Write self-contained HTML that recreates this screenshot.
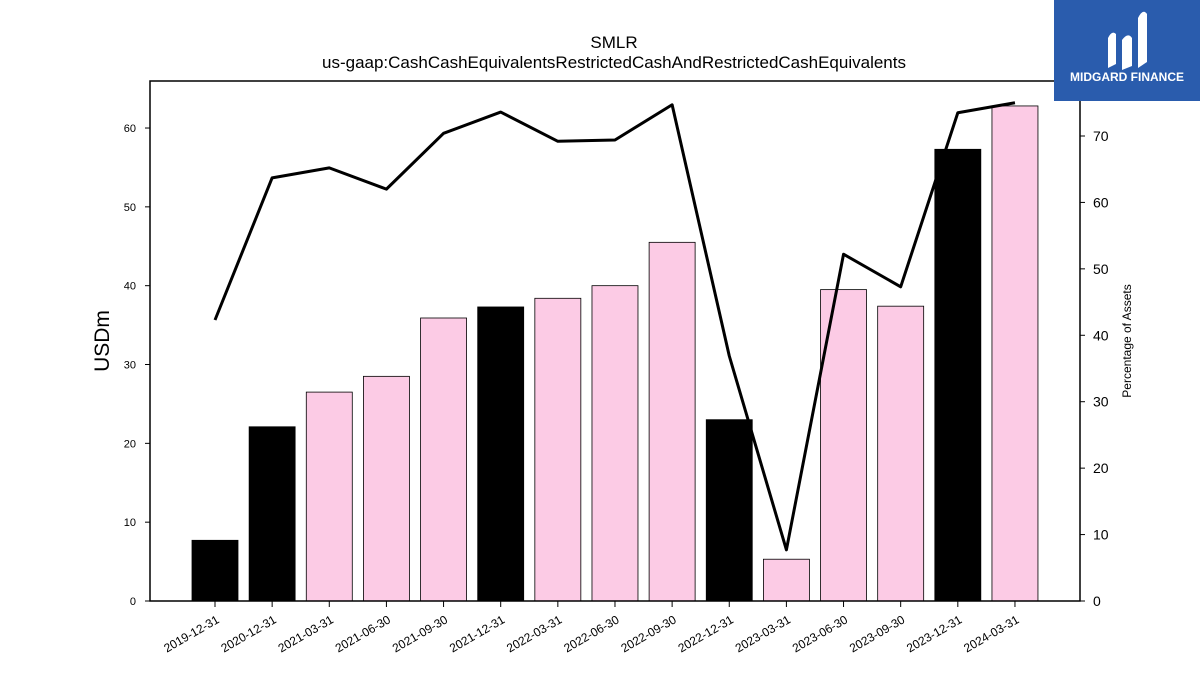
<!DOCTYPE html>
<html><head><meta charset="utf-8">
<style>
body{margin:0;background:#fff;font-family:"Liberation Sans",sans-serif;}
svg text{font-family:"Liberation Sans",sans-serif;}
</style></head>
<body>
<svg id="chart" width="1200" height="675" viewBox="0 0 1200 675" xmlns="http://www.w3.org/2000/svg">
<rect width="1200" height="675" fill="#fff"/>
<text x="614" y="48" font-size="17" text-anchor="middle">SMLR</text>
<text x="614" y="68" font-size="17" text-anchor="middle">us-gaap:CashCashEquivalentsRestrictedCashAndRestrictedCashEquivalents</text>
<g id="bars"></g>
<g id="line"></g>
<g id="axes"></g>
<rect x="150" y="81" width="930" height="520" fill="none" stroke="#000" stroke-width="1.5"/>
<text transform="translate(109,341) rotate(-90)" font-size="21" text-anchor="middle">USDm</text>
<text transform="translate(1131,341) rotate(-90)" font-size="12" text-anchor="middle">Percentage of Assets</text>
<g>
<rect x="1054" y="0" width="146" height="101" fill="#2a5cad"/>
<path d="M1108 68 L1108 38 Q1112 30 1116 34 L1116 64 Z M1122 70 L1122 40 Q1128 32 1132 38 L1132 66 Z M1138 68 L1138 18 Q1143 8 1147 14 L1147 62 Z" fill="#fff"/>
<text x="1127" y="81" font-size="12" font-weight="bold" fill="#fff" text-anchor="middle">MIDGARD FINANCE</text>
</g>
</svg>
<script>
const categories=["2019-12-31","2020-12-31","2021-03-31","2021-06-30","2021-09-30","2021-12-31","2022-03-31","2022-06-30","2022-09-30","2022-12-31","2023-03-31","2023-06-30","2023-09-30","2023-12-31","2024-03-31"];
const cashValues=[7.7,22.1,26.5,28.5,35.9,37.3,38.4,40.0,45.5,23.0,5.3,39.5,37.4,57.3,62.8];
const pctValues=[42.3,63.7,65.2,62.0,70.4,73.6,69.2,69.4,74.7,36.9,7.7,52.2,47.3,73.5,75.0];
const leftTicks=[0,10,20,30,40,50,60];
const rightTicks=[0,10,20,30,40,50,60,70];
const NS="http://www.w3.org/2000/svg";
const x0=215,step=57.14,bw=46,base=601;
function xPos(i){return x0+i*step;}
function yL(v){return base-v*7.883;}
function yR(v){return base-v*6.643;}
function mk(t,a,p){const e=document.createElementNS(NS,t);for(const k in a)e.setAttribute(k,a[k]);p.appendChild(e);return e;}
const gb=document.getElementById('bars'),gl=document.getElementById('line'),ga=document.getElementById('axes');
cashValues.forEach((v,i)=>{
 const black=categories[i].endsWith('12-31');
 const r=mk('rect',{x:xPos(i)-bw/2,y:yL(v),width:bw,height:base-yL(v),fill:black?'#000':'#fccbe5',stroke:'#000','stroke-width':0.8},gb);
 
 
});
const pl=mk('polyline',{points:pctValues.map((v,i)=>xPos(i)+','+yR(v)).join(' '),fill:'none',stroke:'#000','stroke-width':3,'stroke-linejoin':'round'},gl);


leftTicks.forEach(t=>{
 mk('line',{x1:145,x2:150,y1:yL(t),y2:yL(t),stroke:'#000'},ga);
 const tx=mk('text',{x:136,y:yL(t)+4,'font-size':11,'text-anchor':'end'},ga);tx.textContent=t;
 
 
});
rightTicks.forEach(t=>{
 mk('line',{x1:1080,x2:1085,y1:yR(t),y2:yR(t),stroke:'#000'},ga);
 const tx=mk('text',{x:1093,y:yR(t)+5,'font-size':14},ga);tx.textContent=t;
 
 
});
categories.forEach((c,i)=>{
 mk('line',{x1:xPos(i),x2:xPos(i),y1:601,y2:607,stroke:'#000'},ga);
 const tx=mk('text',{transform:`translate(${xPos(i)+5},622) rotate(-30)`,'font-size':12,'text-anchor':'end'},ga);tx.textContent=c;
 
 
});
</script>
</body></html>
